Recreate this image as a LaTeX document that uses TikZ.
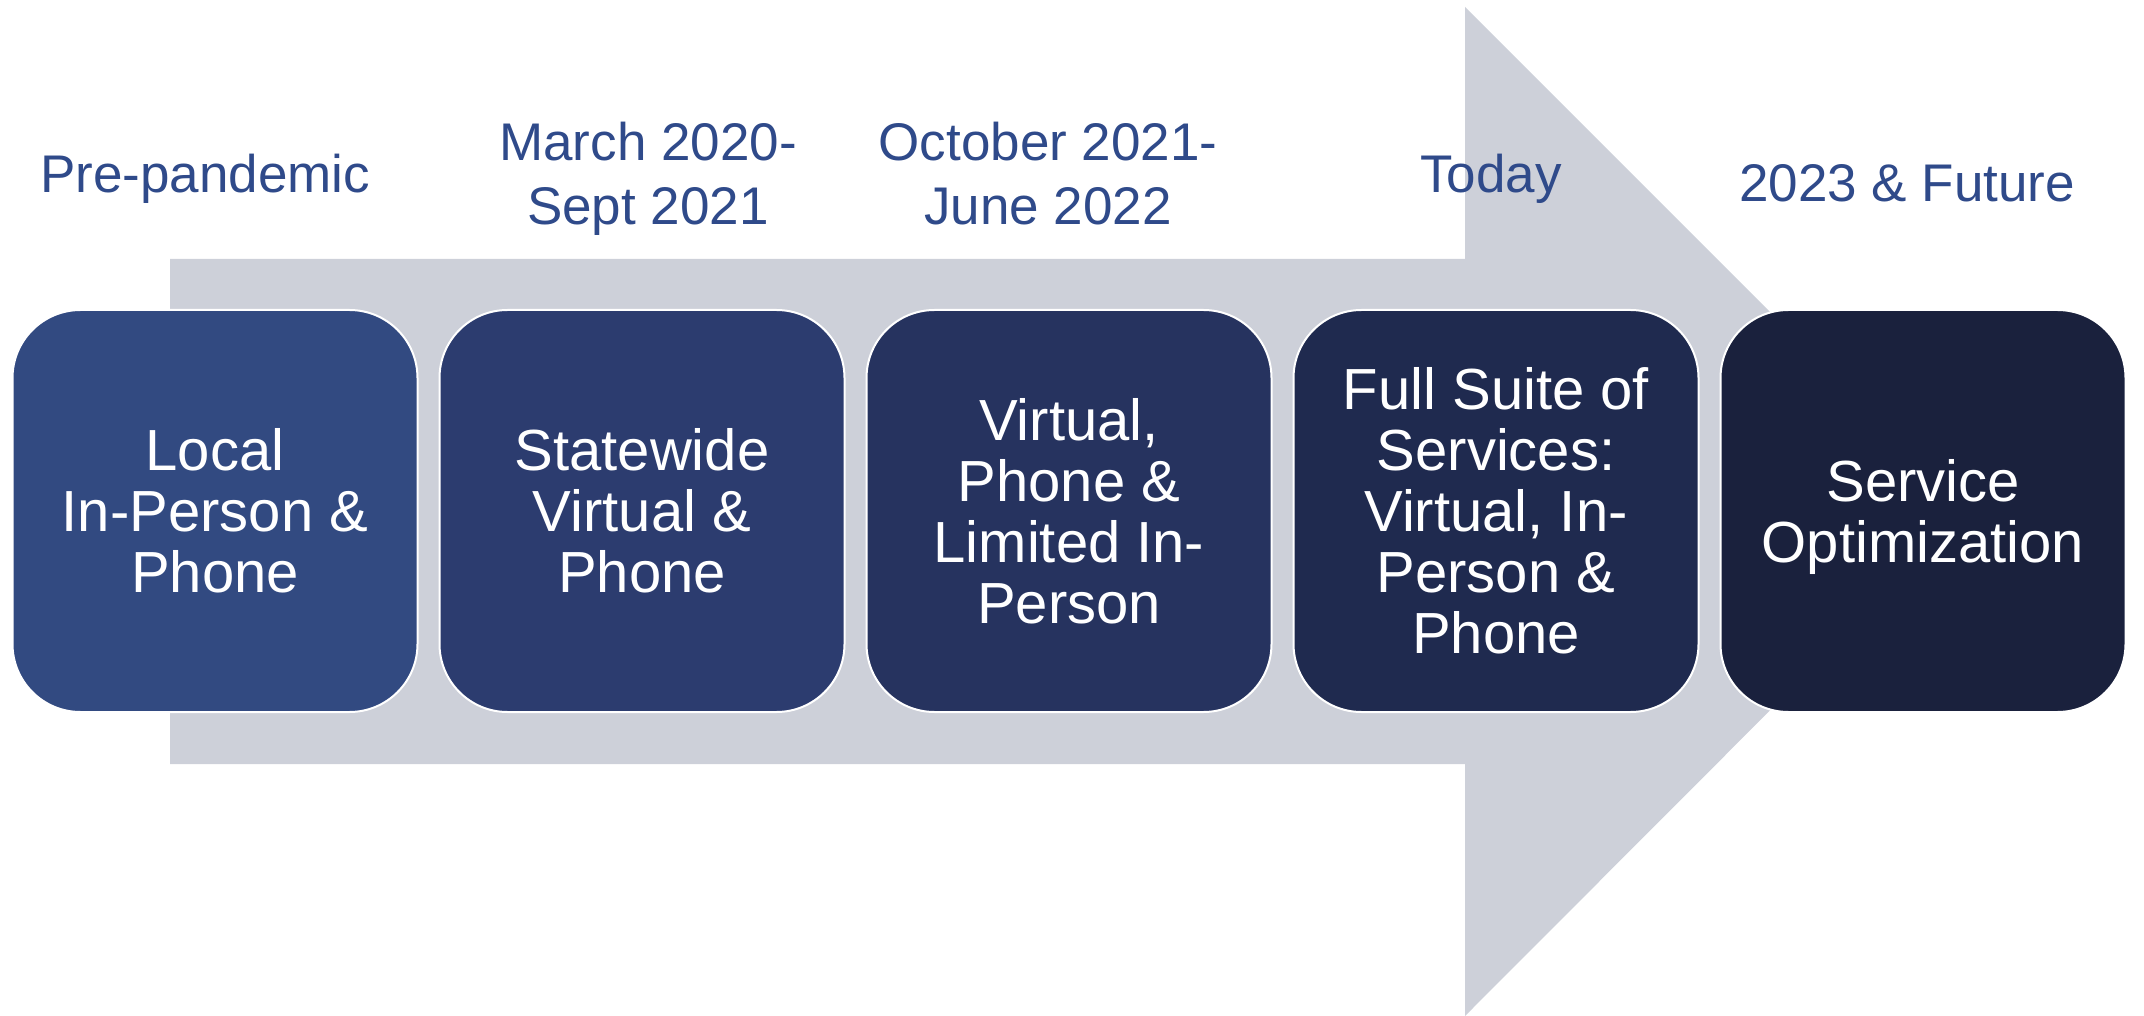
\documentclass[tikz,border=0pt]{standalone}
\usepackage{fontspec}
\setmainfont{Liberation Sans}
\definecolor{shaftgray}{HTML}{CDD0D9}
\definecolor{periodblue}{HTML}{2F4A8A}
\definecolor{stageA}{HTML}{324A81}
\definecolor{stageB}{HTML}{2C3C6F}
\definecolor{stageC}{HTML}{26335F}
\definecolor{stageD}{HTML}{1F2A4F}
\definecolor{stageE}{HTML}{1A213D}
\begin{document}
\begin{tikzpicture}[x=0.5pt,y=-0.5pt,
	stagebox/.style={rectangle,rounded corners=34pt,draw=white,line width=1pt,minimum width=202.5pt,minimum height=201pt,inner sep=0pt,text=white,align=center,font=\fontsize{29}{30.5}\selectfont},
	periodlabel/.style={inner sep=0pt,text=periodblue,align=center,font=\fontsize{26.5}{32}\selectfont}]
				\useasboundingbox (0,0) rectangle (2144,1016);
				\fill[shaftgray] (170,259) -- (1465,259) -- (1465,7) -- (1969,511) -- (1465,1016) -- (1465,764) -- (170,764) -- cycle;
				
				\node[stagebox,fill=stageA] (local) at (215,511) {Local\\In-Person \&\\Phone};
				\node[stagebox,fill=stageB] (statewide) at (642,511) {Statewide\\Virtual \&\\Phone};
				\node[stagebox,fill=stageC] (limited) at (1069,511) {Virtual,\\Phone \&\\Limited In-\\Person};
				\node[stagebox,fill=stageD] (fullsuite) at (1496,511) {Full Suite of\\Services:\\Virtual, In-\\Person \&\\Phone};
				\node[stagebox,fill=stageE,text depth=0pt] (optim) at (1923,511) {Service\\Optimization};
				
				\node[periodlabel] (prepandemic) at (205,179) {Pre-pandemic};
				\node[periodlabel] (march) at (648,179) {March 2020-\\Sept 2021};
				\node[periodlabel] (october) at (1048,174) {October 2021-\\June 2022};
				\node[periodlabel] (today) at (1491,179) {Today};
				\node[periodlabel] (future) at (1907,183) {2023 \& Future};
			\end{tikzpicture}
\end{document}
